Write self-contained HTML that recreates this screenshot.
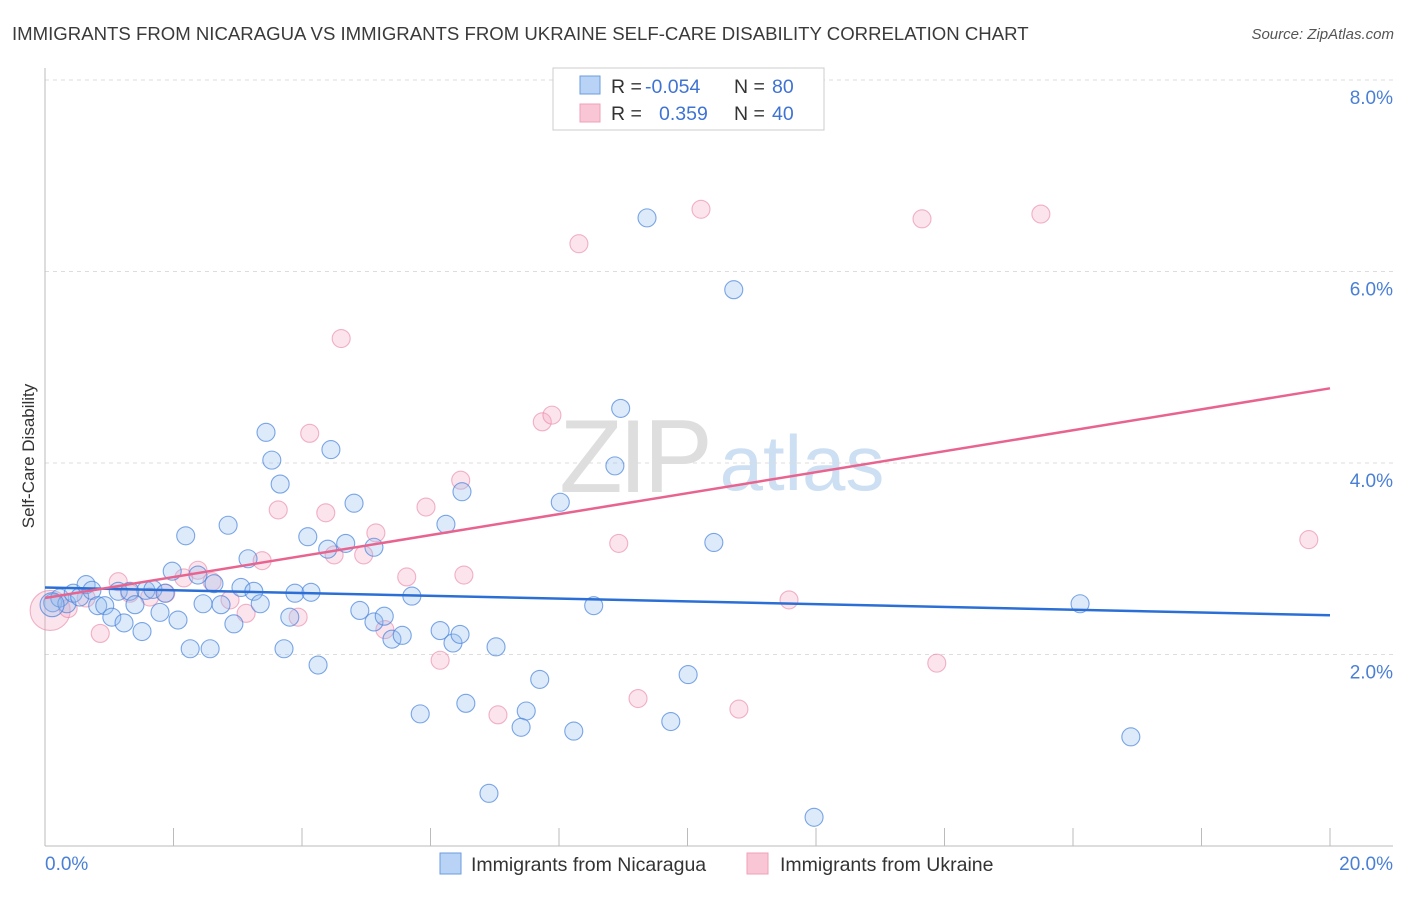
<!DOCTYPE html>
<html><head><meta charset="utf-8"><style>
body{margin:0;background:#fff;font-family:"Liberation Sans",sans-serif}
svg text{font-family:"Liberation Sans",sans-serif}
</style></head><body>
<svg id="chart" width="1406" height="892" xmlns="http://www.w3.org/2000/svg">
<text x="12" y="40" font-size="18.6" fill="#3a3a3a">IMMIGRANTS FROM NICARAGUA VS IMMIGRANTS FROM UKRAINE SELF-CARE DISABILITY CORRELATION CHART</text>
<text x="1394" y="39" font-size="15" fill="#555" text-anchor="end" font-style="italic">Source: ZipAtlas.com</text>
<g>
<text x="634" y="492" font-size="104" fill="#dedede" text-anchor="middle" font-family="Liberation Serif" letter-spacing="-4">ZIP</text>
<text x="802" y="490" font-size="78" fill="#cddff3" text-anchor="middle">atlas</text>
</g>
<g id="grid"></g><g id="axes"></g><g id="trends"></g><g id="pts"></g>
<text transform="translate(34,456) rotate(-90)" font-size="17" fill="#333" text-anchor="middle">Self-Care Disability</text>
<g>
<rect x="553" y="68" width="271" height="62" fill="#fff" stroke="#ccc"/>
<rect x="580" y="76" width="20" height="18" fill="#b8d3f5" stroke="#6b9de0"/>
<rect x="580" y="104" width="20" height="18" fill="#f9c6d6" stroke="#f0a0b8"/>
<text x="611" y="93" font-size="19.5" fill="#333">R =</text>
<text x="645" y="93" font-size="19.5" fill="#3f73d3">-0.054</text>
<text x="734" y="93" font-size="19.5" fill="#333">N =</text>
<text x="772" y="93" font-size="19.5" fill="#3f73d3">80</text>
<text x="611" y="120" font-size="19.5" fill="#333">R =</text>
<text x="659" y="120" font-size="19.5" fill="#3f73d3">0.359</text>
<text x="734" y="120" font-size="19.5" fill="#333">N =</text>
<text x="772" y="120" font-size="19.5" fill="#3f73d3">40</text>
</g>
<g>
<rect x="440" y="853" width="21" height="21" fill="#b8d3f5" stroke="#6b9de0"/>
<text x="471" y="871" font-size="19.5" fill="#333">Immigrants from Nicaragua</text>
<rect x="747" y="853" width="21" height="21" fill="#f9c6d6" stroke="#f0a0b8"/>
<text x="780" y="871" font-size="19.5" fill="#333">Immigrants from Ukraine</text>
</g>
</svg>
<script>
const yTicks=[2,4,6,8];
const yTickLabels=["2.0%","4.0%","6.0%","8.0%"];
const xTickCount=10;
const xTickLabels=["0.0%","20.0%"];
const nicX=[0.12,0.23,0.34,0.44,0.54,0.64,0.73,0.82,0.93,1.04,1.14,1.23,1.32,1.40,1.51,1.57,1.68,1.79,1.87,1.98,2.07,2.19,2.26,2.38,2.46,2.57,2.63,2.74,2.85,2.94,3.05,3.16,3.25,3.35,3.44,3.53,3.66,3.72,3.81,3.89,4.09,4.25,4.14,4.40,4.45,4.68,4.81,4.90,5.12,5.12,5.28,5.40,5.56,5.71,5.84,6.15,6.24,6.35,6.46,6.49,6.55,7.02,6.91,7.49,7.41,7.70,8.02,8.23,8.54,8.87,8.96,9.37,9.74,10.01,10.41,10.72,11.97,16.11,16.90,0.11];
const nicY=[2.54,2.59,2.53,2.64,2.60,2.73,2.67,2.51,2.51,2.39,2.66,2.33,2.66,2.52,2.24,2.67,2.68,2.44,2.64,2.87,2.36,3.24,2.06,2.83,2.53,2.06,2.74,2.52,3.35,2.32,2.70,3.00,2.66,2.53,4.32,4.03,3.78,2.06,2.39,2.64,3.23,1.89,2.65,3.10,4.14,3.16,3.58,2.46,2.34,3.12,2.40,2.16,2.20,2.61,1.38,2.25,3.36,2.12,2.21,3.70,1.49,2.08,0.55,1.41,1.24,1.74,3.59,1.20,2.51,3.97,4.57,6.56,1.30,1.79,3.17,5.81,0.30,2.53,1.14,2.52];
const ukrX=[0.08,0.36,0.64,0.86,1.14,1.32,1.63,1.88,2.16,2.38,2.60,2.88,3.13,3.38,3.63,3.94,4.12,4.37,4.50,4.61,4.96,5.15,5.29,5.63,5.93,6.15,6.47,6.52,7.05,7.74,7.89,8.31,8.93,9.23,10.21,10.80,11.58,13.65,13.88,15.50,19.67];
const ukrY=[2.46,2.48,2.59,2.22,2.76,2.64,2.60,2.64,2.80,2.88,2.76,2.57,2.43,2.98,3.51,2.39,4.31,3.48,3.04,5.30,3.04,3.27,2.26,2.81,3.54,1.94,3.82,2.83,1.37,4.43,4.50,6.29,3.16,1.54,6.65,1.43,2.57,6.55,1.91,6.60,3.20];
const nicTrend=[2.70,2.41];
const ukrTrend=[2.59,4.78];
const trendX=[0,20];

const NS="http://www.w3.org/2000/svg";
const X0=45,X1=1330,Y0=846,PX=95.75;
const sx=v=>X0+(X1-X0)*v/20, sy=v=>Y0-v*PX;
function mk(tag,attrs,parent){const e=document.createElementNS(NS,tag);for(const k in attrs)e.setAttribute(k,attrs[k]);parent.appendChild(e);return e;}
const grid=document.getElementById('grid'),axes=document.getElementById('axes'),tr=document.getElementById('trends'),pts=document.getElementById('pts');
yTicks.forEach((t,i)=>{
 const l=mk('line',{x1:X0,x2:1393,y1:sy(t),y2:sy(t),stroke:'#ddd','stroke-dasharray':'4,4'},grid);
 
 
 const tx=mk('text',{x:1393,y:sy(t)+24,'font-size':19,fill:'#4a7fd6','text-anchor':'end'},grid);
 tx.textContent=yTickLabels[i];
 
 
});
const xa=mk('line',{x1:X0,x2:1393,y1:Y0,y2:Y0,stroke:'#bbb'},axes);


const ya=mk('line',{x1:X0,x2:X0,y1:68,y2:Y0,stroke:'#bbb'},axes);


for(let i=0;i<=xTickCount;i++){
 const x=sx(20*i/xTickCount);
 const t=mk('line',{x1:x,x2:x,y1:828,y2:Y0,stroke:'#bbb'},axes);
 
 
}
const xl0=mk('text',{x:X0,y:870,'font-size':19,fill:'#4a7fd6'},axes);
xl0.textContent=xTickLabels[0];


const xl1=mk('text',{x:1393,y:870,'font-size':19,fill:'#4a7fd6','text-anchor':'end'},axes);
xl1.textContent=xTickLabels[1];


function pt(x,y,r,fill,stroke,name){
 const c=mk('circle',{cx:sx(x),cy:sy(y),r:r,fill:fill,stroke:stroke,'stroke-width':1.1},pts);
 
 
}
ukrX.forEach((x,i)=>pt(x,ukrY[i],i===0?20:9,'rgba(245,165,192,0.3)','rgba(232,130,165,0.6)','point-ukraine'));
nicX.forEach((x,i)=>pt(x,nicY[i],i===nicX.length-1?12:9,'rgba(150,190,240,0.32)','rgba(70,130,220,0.7)','point-nicaragua'));
const l1=mk('line',{x1:sx(trendX[0]),x2:sx(trendX[1]),y1:sy(nicTrend[0]),y2:sy(nicTrend[1]),stroke:'#2b6fd6','stroke-width':2.5},tr);


const l2=mk('line',{x1:sx(trendX[0]),x2:sx(trendX[1]),y1:sy(ukrTrend[0]),y2:sy(ukrTrend[1]),stroke:'#e8648f','stroke-width':2.5},tr);


pts.parentNode.appendChild(tr);
</script>
</body></html>
